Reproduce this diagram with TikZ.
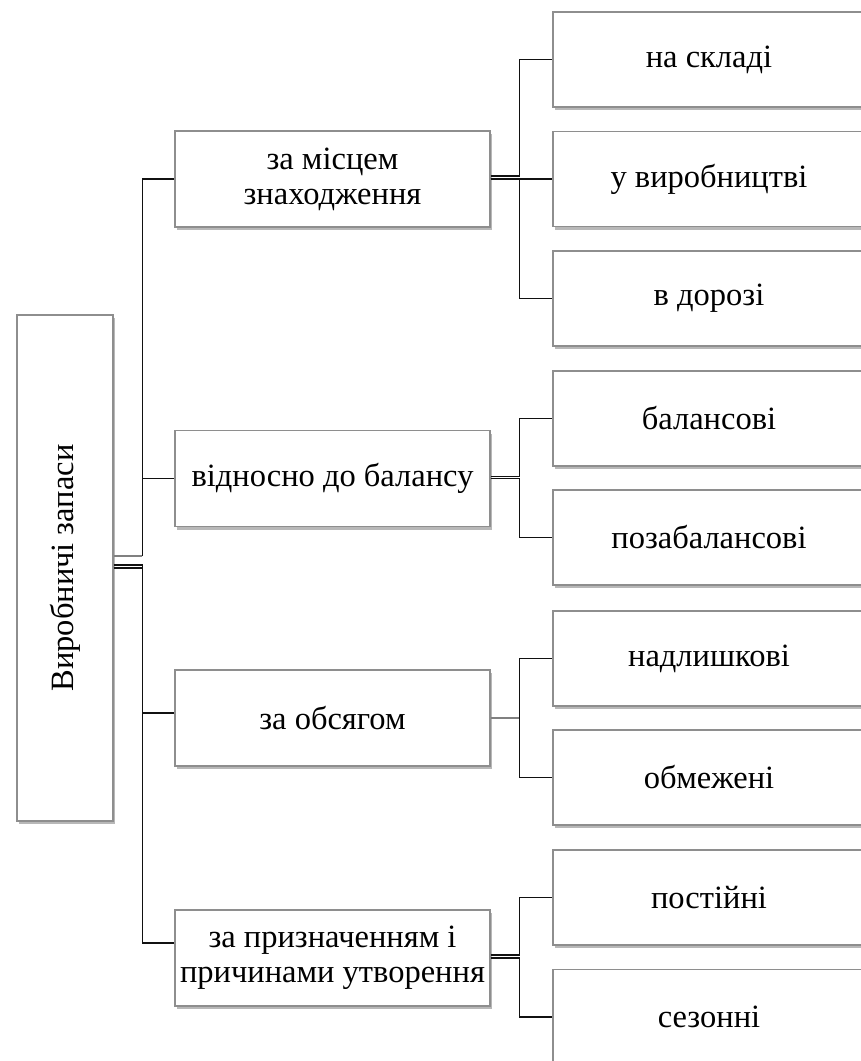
\documentclass[tikz,border=0pt]{standalone}
\usepackage{fontspec}
\setmainfont{Liberation Serif}
\usetikzlibrary{shadows}
\definecolor{boxgray}{HTML}{8E8E8E}
\definecolor{linegray}{HTML}{111111}
\begin{document}
\begin{tikzpicture}[x=1pt,y=-1pt,
  box/.style={draw=boxgray, line width=1.2pt, fill=white, inner sep=0pt, align=center,
    font=\fontsize{32.5}{35}\selectfont,
    drop shadow={shadow xshift=2pt, shadow yshift=-3pt, opacity=0.28, fill=black}},
  lvlone/.style={box, minimum width=315pt, minimum height=96pt},
  lvltwo/.style={box, minimum width=312pt, minimum height=95pt},
  conn/.style={draw=linegray, line width=1.1pt},
  lightconn/.style={draw=gray, line width=1.6pt},
  lbl/.style={font=\fontsize{32.5}{35}\selectfont, inner sep=0pt}]
\useasboundingbox (0,0) rectangle (861,1061);
\clip (0,0) rectangle (861,1061);
\fill[white] (0,0) rectangle (861,1061);

% root
\node[box, minimum width=96pt, minimum height=506pt] (root) at (65,568) {};
\node[lbl, rotate=90] (rootlabel) at (root.center) {Виробничі запаси};

% level one
\node[lvlone] (L1) at (332.5,179) {за місцем\\знаходження};
\node[lvlone] (L2) at (332.5,478.5) {відносно до балансу};
\node[lvlone] (L3) at (332.5,718) {за обсягом};
\node[lvlone] (L4) at (332.5,958) {за призначенням і\\причинами утворення};

% level two
\node[lvltwo] (C1) at (709,59.5) {на складі};
\node[lvltwo] (C2) at (709,179) {у виробництві};
\node[lvltwo] (C3) at (709,298.5) {в дорозі};
\node[lvltwo] (C4) at (709,418.5) {балансові};
\node[lvltwo] (C5) at (709,537.5) {позабалансові};
\node[lvltwo] (C6) at (709,658.5) {надлишкові};
\node[lvltwo] (C7) at (709,777.5) {обмежені};
\node[lvltwo] (C8) at (709,897.5) {постійні};
\node[lvltwo] (C9) at (709,1017) {сезонні};

% helper coordinates
\coordinate (rtop) at ([yshift=12pt]root.east);
\coordinate (rmid) at ([yshift=3pt]root.east);
\coordinate (rbot) at (root.east);
\coordinate (busA) at ([xshift=-32pt]L1.west |- rtop);
\coordinate (L3in) at ([yshift=5pt]L3.west);
\coordinate (L4in) at ([yshift=15pt]L4.west);
\coordinate (busC) at ([xshift=-33pt]C6.west |- L3.east);

% root to level one
\draw[lightconn] (rtop) -- (busA);
\draw[conn] (busA) |- (L1.west);
\draw[conn] (busA) |- (L2.west);
\draw[conn] (rmid) -| ([xshift=-32pt]L3in) -- (L3in);
\draw[conn] (rbot) -| ([xshift=-32pt]L4in) -- (L4in);

% level one to level two
\draw[conn] ([yshift=3pt]L1.east) -| ([xshift=-33pt]C1.west) -- (C1.west);
\draw[conn] (L1.east) -| ([xshift=-33pt]C2.west) -- (C2.west);
\draw[conn] (L1.east) -| ([xshift=-33pt]C3.west) -- (C3.west);

\draw[conn] ([yshift=2pt]L2.east) -| ([xshift=-33pt]C4.west) -- (C4.west);
\draw[conn] (L2.east) -| ([xshift=-33pt]C5.west) -- (C5.west);

\draw[lightconn] (L3.east) -- (busC);
\draw[conn] (busC) |- (C6.west);
\draw[conn] (busC) |- (C7.west);

\draw[conn] ([yshift=3pt]L4.east) -| ([xshift=-33pt]C8.west) -- (C8.west);
\draw[conn] (L4.east) -| ([xshift=-33pt]C9.west) -- (C9.west);
\end{tikzpicture}
\end{document}
